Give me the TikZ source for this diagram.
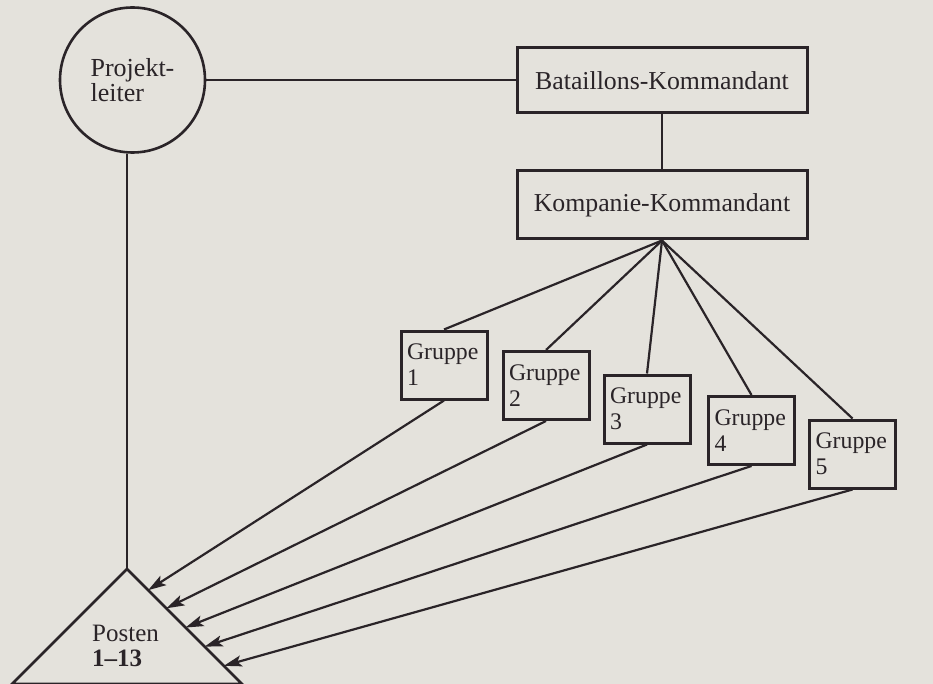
\documentclass[tikz,border=0pt]{standalone}
\usepackage{fontspec}
\setmainfont{Liberation Serif}
\usetikzlibrary{arrows.meta,calc}
\definecolor{paper}{RGB}{228,226,220}
\definecolor{ink}{RGB}{42,36,40}
\tikzset{
  conn/.style={draw=ink,line width=2.2pt},
  arr/.style={conn,-{Stealth[length=18pt,width=11pt,inset=4pt]}},
  box/.style={draw=ink,line width=3pt,rectangle,inner sep=0pt,text=ink,font=\fontsize{25.8}{27}\selectfont},
  grp/.style={draw=ink,line width=3pt,rectangle,text width=74pt,inner xsep=6pt,inner ysep=0pt,minimum height=68pt,align=left,text=ink,font=\fontsize{23.8}{26}\selectfont},
}
\begin{document}
\begin{tikzpicture}[x=1pt,y=-1pt]
\fill[paper] (0,0) rectangle (933,684);
\useasboundingbox (0,0) rectangle (933,684);
% Projektleiter
\node[circle,draw=ink,line width=2.6pt,minimum size=145pt,inner sep=0pt,align=left,text=ink,font=\fontsize{26}{25}\selectfont] (P) at (132.5,80) {Projekt-\\leiter};
% command boxes
\node[box,minimum width=290pt,minimum height=65pt] (B) at (662,80.5) {Bataillons-Kommandant};
\node[box,minimum width=290pt,minimum height=68pt] (K) at (662,205) {Kompanie-Kommandant};
% groups
\node[grp] (G1) at (444,365) {Gruppe\\1};
\node[grp] (G2) at (546,385.5) {Gruppe\\2};
\node[grp] (G3) at (647,409) {Gruppe\\3};
\node[grp] (G4) at (751.5,430.5) {Gruppe\\4};
\node[grp] (G5) at (852.5,454) {Gruppe\\5};
% Posten triangle
\coordinate (apex) at (127,569);
\coordinate (bl) at (12,684);
\coordinate (br) at (242,684);
\draw[draw=ink,line width=2.6pt,line join=miter] (bl) -- (apex) -- (br) -- cycle;
\node[anchor=west,inner sep=0pt,align=left,text=ink,font=\fontsize{25}{25}\selectfont] (T) at (92,646) {Posten\\\textbf{1–13}};
\foreach \i/\f in {1/0.184,2/0.342,3/0.509,4/0.675,5/0.842}{
  \coordinate (t\i) at ($(apex)!\f!(br)$);
}
% connectors
\draw[conn] (P.east) -- (P.east -| B.west);
\draw[conn] (B.south) -- (K.north);
\draw[conn] (apex |- P.south) -- (apex);
\foreach \i in {1,...,5}{
  \draw[conn] (K.south) -- (G\i.north);
  \draw[arr] (G\i.south) -- (t\i);
}
\end{tikzpicture}
\end{document}
